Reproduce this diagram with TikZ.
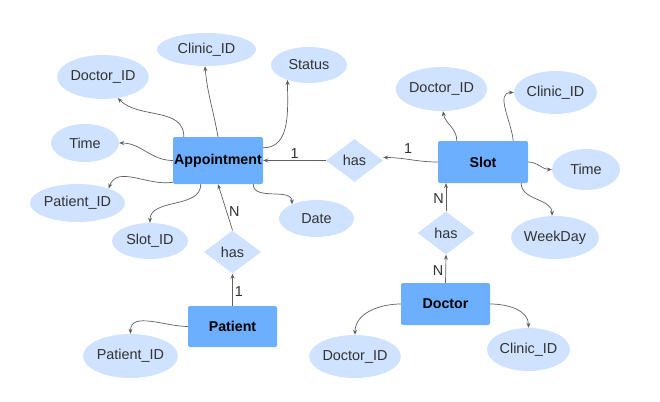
\documentclass[tikz,border=0pt]{standalone}
\usepackage{fontspec}
\setmainfont{Liberation Sans}
\usetikzlibrary{arrows.meta,shapes.geometric}
\definecolor{ent}{RGB}{108,174,255}
\definecolor{att}{RGB}{207,226,255}
\definecolor{lnk}{RGB}{95,95,95}
\definecolor{txt}{RGB}{50,50,50}

\begin{document}
\begin{tikzpicture}[x=1pt, y=1pt,
  >={Stealth[length=5pt,width=4pt]},
  font=\fontsize{14.4}{16}\selectfont,
  entity/.style={rectangle, rounded corners=2pt, fill=ent, inner sep=0pt, font=\fontsize{14.2}{16}\selectfont\bfseries},
  attr/.style={ellipse, fill=att, inner sep=0pt, text=txt},
  rel/.style={diamond, fill=att, inner sep=0pt, minimum width=57pt, minimum height=43pt, text=txt},
  link/.style={->, draw=lnk, line width=0.7pt},
  card/.style={text=txt, inner sep=2pt}]

\useasboundingbox (0,0) rectangle (660,-401);

% entities
\node[entity, minimum width=90pt, minimum height=47pt] (appt) at (218,-160.5) {Appointment};
\node[entity, minimum width=90pt, minimum height=42pt] (slot) at (483,-162) {Slot};
\node[entity, minimum width=89pt, minimum height=41pt] (patient) at (232.5,-326.5) {Patient};
\node[entity, minimum width=89pt, minimum height=42pt] (doctor) at (445.5,-304) {Doctor};

% relations
\node[rel] (r1) at (354.5,-160.5) {has};
\node[rel] (r2) at (232.5,-252) {has};
\node[rel] (r3) at (446,-233) {has};

% attributes
\foreach \n/\x/\y/\w/\h/\t in {
  aclinic/206.5/-49.5/99/33/Clinic\_ID, adoc/103/-77/88/44/Doctor\_ID,
  astatus/309/-65/76/36/Status, atime/85/-143/68/38/Time,
  apat/77.5/-203/83/38/Patient\_ID, aslot/150/-241/76/36/Slot\_ID,
  adate/316.5/-218.5/75/37/Date,
  sdoc/441.5/-89/83/44/Doctor\_ID, sclinic/555.5/-92.5/83/43/Clinic\_ID,
  stime/586/-169.5/68/41/Time, sweek/555/-237.5/84/43/WeekDay,
  ppat/130.5/-356/83/44/Patient\_ID,
  ddoc/355/-356.5/84/43/Doctor\_ID, dclinic/528.5/-349.5/83/43/Clinic\_ID}{
  \node[attr, minimum width=\w pt, minimum height=\h pt] (\n) at (\x,\y) {\t};
}

% Appointment attributes
\draw[link] ([xshift=11pt]appt.north west) to[out=90, in=-45] (adoc.-55);
\draw[link] (appt.north) to[out=100, in=-85] ([xshift=-1.5pt]aclinic.south);
\draw[link] ([yshift=-11pt]appt.north east) to[out=0, in=-90] (astatus.215);
\draw[link] (appt.west) to[out=180, in=0] (atime.east);
\draw[link] ([yshift=2pt]appt.south west) to[out=190, in=70] (apat.25);
\draw[link] ([xshift=28pt]appt.south west) to[out=-90, in=90] (aslot.north);
\draw[link] ([xshift=-10pt]appt.south east) to[out=-90, in=90] (adate.150);

% relations and cardinalities
\draw[link] (r1.west) -- node[card, above, pos=0.5] {1} (appt.east);
\draw[link] (slot.west) to[out=180, in=0] node[card, above, pos=0.55, yshift=4pt] {1} ([yshift=3pt]r1.east);
\draw[link] (r2.north) -- node[card, right, pos=0.4] {N} (appt.south);
\draw[link] (patient.north) -- node[card, right, pos=0.45] {1} (r2.south);
\draw[link] (r3.north) -- node[card, left, pos=0.45] {N} (r3.north |- slot.south);
\draw[link] (doctor.north) -- node[card, left, pos=0.45] {N} (r3.south);

% Slot attributes
\draw[link] ([xshift=19pt]slot.north west) to[out=90, in=-80] ([xshift=1.5pt]sdoc.south);
\draw[link] ([xshift=-15pt]slot.north east) to[out=95, in=180] (sclinic.west);
\draw[link] (slot.east) to[out=0, in=180] (stime.west);
\draw[link] ([xshift=-7pt]slot.south east) to[out=-90, in=90] ([xshift=-3pt]sweek.north);

% Patient and Doctor attributes
\draw[link] (patient.west) to[out=180, in=90] (ppat.north);
\draw[link] (doctor.west) to[out=180, in=90] (ddoc.north);
\draw[link] (doctor.east) to[out=0, in=90] (dclinic.north);
\end{tikzpicture}
\end{document}
